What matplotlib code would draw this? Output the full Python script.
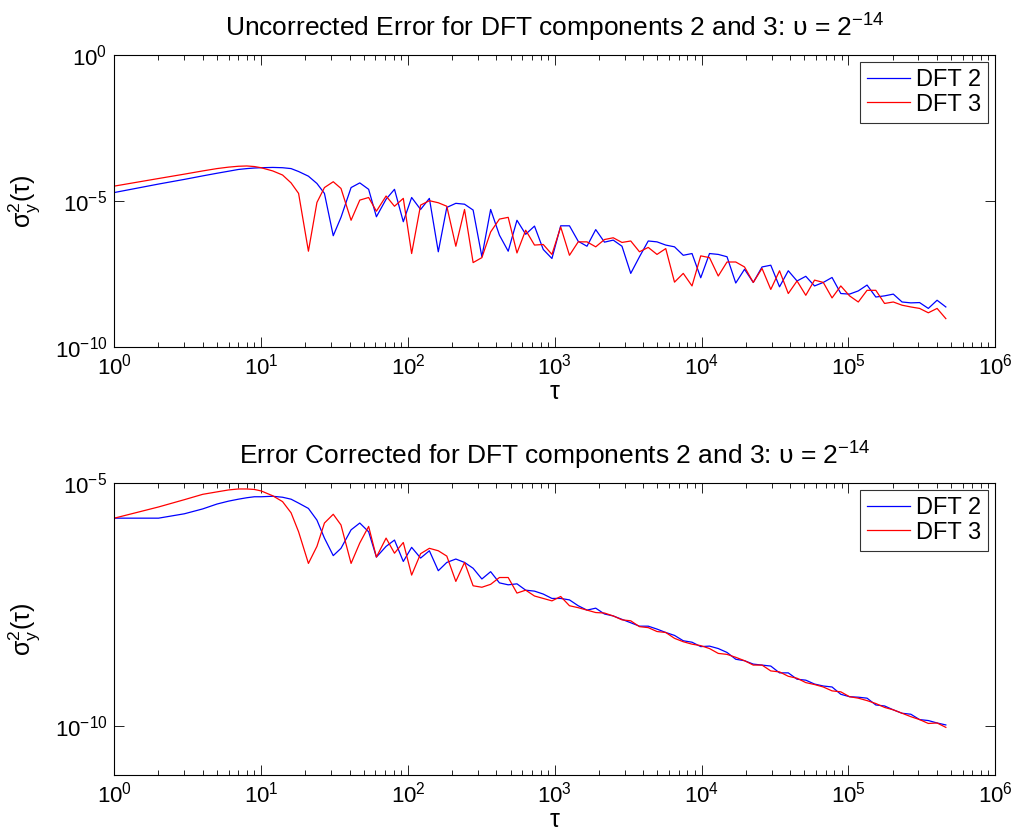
import numpy as np
import matplotlib
matplotlib.use("Agg")
from matplotlib import pyplot as plt
from matplotlib.ticker import LogLocator, NullLocator, NullFormatter

plt.rcParams['font.family'] = ['Liberation Sans', 'DejaVu Sans']
plt.rcParams['mathtext.fontset'] = 'custom'
plt.rcParams['mathtext.rm'] = 'Liberation Sans'
plt.rcParams['mathtext.it'] = 'Liberation Sans:italic'
plt.rcParams['mathtext.sf'] = 'Liberation Sans'

# averaging times (tau)
tau = [1, 2, 3, 4, 5, 6, 7, 8, 9, 10, 12, 14, 16, 18, 21, 24, 27, 31, 35, 41,
       47, 54, 61, 71, 81, 93, 106, 122, 140, 161, 184, 212, 243, 278, 319,
       366, 420, 482, 553, 634, 728, 835, 957, 1098, 1260, 1445, 1658, 1902,
       2182, 2503, 2871, 3294, 3778, 4334, 4972, 5704, 6543, 7506, 8611, 9874,
       11330, 12996, 14909, 17100, 19620, 22506, 25817, 29617, 33975, 38974,
       44710, 51286, 58833, 67490, 77420, 88820, 101880, 116870, 134070,
       153800, 176440, 202390, 232180, 266340, 305530, 350500, 402070, 461240]

# log10 of sigma_y^2(tau), uncorrected
unc_dft2 = [-4.71, -4.42, -4.26, -4.14, -4.05, -3.98, -3.92, -3.89, -3.87, -3.86,
            -3.85, -3.86, -3.89, -3.99, -4.15, -4.40, -4.74, -6.19, -5.56, -4.54,
            -4.38, -4.60, -5.54, -4.94, -4.60, -5.71, -4.88, -5.29, -4.91, -6.74,
            -5.22, -5.08, -5.11, -5.31, -6.91, -5.29, -6.17, -6.72, -5.66, -6.14,
            -5.86, -6.66, -6.97, -5.85, -5.85, -6.38, -6.55, -5.98, -6.41, -6.34,
            -6.55, -7.48, -6.91, -6.37, -6.40, -6.51, -6.57, -6.86, -6.80, -7.63,
            -6.80, -6.83, -6.91, -7.81, -7.34, -7.79, -7.26, -7.20, -7.94, -7.39,
            -7.74, -7.58, -7.91, -7.79, -7.62, -8.17, -8.19, -8.08, -7.88, -8.29,
            -8.25, -8.19, -8.46, -8.49, -8.48, -8.68, -8.40, -8.63]
unc_dft3 = [-4.49, -4.23, -4.08, -3.97, -3.89, -3.84, -3.81, -3.80, -3.82, -3.86,
            -3.97, -4.11, -4.38, -4.74, -6.72, -5.05, -4.54, -4.34, -4.57, -5.66,
            -4.97, -4.88, -5.35, -4.83, -5.18, -4.91, -6.80, -5.14, -4.99, -5.06,
            -5.18, -6.55, -5.29, -7.11, -6.94, -6.06, -5.62, -5.56, -6.78, -6.00,
            -6.51, -6.49, -6.83, -5.89, -6.86, -6.40, -6.40, -6.57, -6.32, -6.26,
            -6.42, -6.37, -6.74, -6.59, -6.83, -6.63, -7.78, -7.48, -7.91, -6.88,
            -6.94, -7.57, -7.09, -7.09, -7.26, -7.79, -7.31, -8.03, -7.39, -8.17,
            -7.74, -8.23, -7.71, -7.79, -8.32, -7.91, -8.25, -8.46, -8.06, -8.06,
            -8.51, -8.46, -8.57, -8.63, -8.68, -8.83, -8.68, -9.03]

# log10 of sigma_y^2(tau), error corrected
cor_dft2 = [-5.72, -5.72, -5.63, -5.53, -5.43, -5.37, -5.33, -5.30, -5.28, -5.28,
            -5.27, -5.29, -5.33, -5.41, -5.52, -5.76, -6.13, -6.49, -6.34, -5.96,
            -5.82, -6.00, -6.52, -6.30, -6.17, -6.61, -6.32, -6.54, -6.39, -6.80,
            -6.63, -6.56, -6.63, -6.75, -6.97, -6.82, -7.05, -7.09, -7.07, -7.20,
            -7.22, -7.28, -7.37, -7.37, -7.40, -7.52, -7.61, -7.57, -7.69, -7.73,
            -7.80, -7.87, -7.94, -7.94, -8.00, -8.07, -8.13, -8.24, -8.27, -8.36,
            -8.35, -8.40, -8.48, -8.62, -8.65, -8.72, -8.74, -8.76, -8.90, -8.90,
            -9.03, -9.05, -9.13, -9.17, -9.19, -9.34, -9.39, -9.40, -9.42, -9.56,
            -9.58, -9.66, -9.73, -9.75, -9.86, -9.88, -9.93, -9.97]
cor_dft3 = [-5.72, -5.49, -5.34, -5.23, -5.18, -5.14, -5.12, -5.12, -5.13, -5.16,
            -5.26, -5.38, -5.61, -6.00, -6.65, -6.30, -5.82, -5.64, -5.86, -6.65,
            -6.23, -5.89, -6.52, -6.13, -6.44, -6.22, -6.89, -6.45, -6.34, -6.39,
            -6.50, -7.02, -6.63, -7.11, -7.14, -7.08, -6.94, -6.94, -7.26, -7.20,
            -7.32, -7.37, -7.42, -7.33, -7.52, -7.56, -7.61, -7.66, -7.67, -7.73,
            -7.81, -7.83, -7.95, -7.97, -8.05, -8.07, -8.19, -8.26, -8.31, -8.34,
            -8.40, -8.50, -8.52, -8.58, -8.65, -8.74, -8.74, -8.86, -8.88, -8.97,
            -9.01, -9.10, -9.14, -9.19, -9.27, -9.29, -9.39, -9.42, -9.47, -9.53,
            -9.61, -9.66, -9.73, -9.80, -9.86, -9.94, -9.93, -10.02]

titles = [r'Uncorrected Error for DFT components 2 and 3: υ = 2$^{-14}$',
          r'Error Corrected for DFT components 2 and 3: υ = 2$^{-14}$']
ylims = [(1e-10, 1e0), (1e-11, 1e-5)]
yticks = [[1e-10, 1e-5, 1e0], [1e-10, 1e-5]]
xticks = [1e0, 1e1, 1e2, 1e3, 1e4, 1e5, 1e6]
series = [(unc_dft2, unc_dft3), (cor_dft2, cor_dft3)]

fig = plt.figure(figsize=(10.16, 8.34), dpi=100)
boxes = [[0.1125, 0.584, 0.867, 0.350], [0.1125, 0.0707, 0.867, 0.350]]

for i in range(2):
    ax = fig.add_axes(boxes[i])
    d2, d3 = series[i]
    ax.loglog(tau, 10.0 ** np.array(d2), color='#0000ff', lw=0.9, label='DFT 2')
    ax.loglog(tau, 10.0 ** np.array(d3), color='#ff0000', lw=0.9, label='DFT 3')
    ax.set_xlim(1, 1e6)
    ax.set_ylim(*ylims[i])
    ax.set_xticks(xticks)
    ax.set_yticks(yticks[i])
    ax.yaxis.set_minor_locator(NullLocator())
    ax.xaxis.set_minor_locator(LogLocator(base=10, subs=np.arange(2, 10), numticks=20))
    ax.xaxis.set_minor_formatter(NullFormatter())
    ax.tick_params(which='both', direction='in', top=True, right=True,
                   labelsize=16, width=0.6)
    ax.tick_params(which='major', length=7, pad=5)
    ax.tick_params(which='minor', length=3.5)
    for sp in ax.spines.values():
        sp.set_linewidth(0.8)
    ax.set_title(titles[i], fontsize=19, pad=13)
    ax.set_xlabel('τ', fontsize=18, labelpad=0)
    ax.set_ylabel(r'σ$_\mathrm{y}^\mathrm{2}$(τ)', fontsize=18)
    ax.yaxis.set_label_coords(-0.082, 0.5)
    leg = ax.legend(loc='upper right', fontsize=17, frameon=True, fancybox=False,
                    borderaxespad=0.3, handlelength=1.8, handletextpad=0.25,
                    borderpad=0.3, labelspacing=0.1)
    leg.get_frame().set_edgecolor('black')
    leg.get_frame().set_linewidth(0.8)

fig.savefig('out.png', dpi=100)
